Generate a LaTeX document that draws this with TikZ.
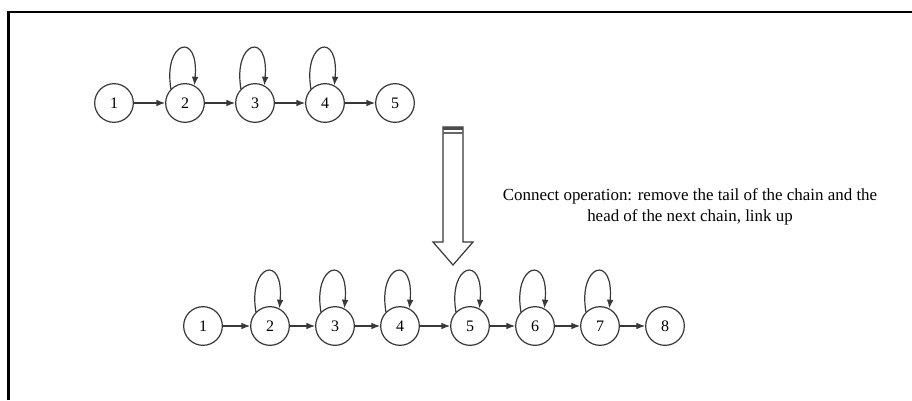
\documentclass[tikz,border=0pt]{standalone}
\usepackage{fontspec}
\setmainfont{Liberation Serif}
\usetikzlibrary{arrows.meta}
\begin{document}
\begin{tikzpicture}[x=0.75pt,y=-0.75pt,
  lc/.style={draw=black!78, line width=0.9pt},
  st/.style={lc, circle, minimum size=29pt, inner sep=0pt, font=\fontsize{12}{14}\selectfont},
  ar/.style={lc, -{Latex[length=6.5pt,width=5pt]}},
  lp/.style={ar}]
\useasboundingbox (0,0) rectangle (912,400);
\fill[white] (0,0) rectangle (912,400);
% frame
\draw[line width=1.9pt, black] (8.5,400) -- (8.5,12) -- (912,12);
% top chain
\foreach \i/\x in {1/114,2/185,3/255,4/325,5/395}
  \node[st] (t\i) at (\x,103) {\i};
\foreach \a/\b in {1/2,2/3,3/4,4/5}
  \draw[ar] (t\a) -- (t\b);
\foreach \i in {2,3,4}
  \draw[lp] (t\i.135) .. controls +(-8,-48) and +(5,-55) .. (t\i.62);
% bottom chain
\foreach \i/\x in {1/203,2/270,3/335,4/400,5/470,6/535,7/600,8/665}
  \node[st] (b\i) at (\x,326) {\i};
\foreach \a/\b in {1/2,2/3,3/4,4/5,5/6,6/7,7/8}
  \draw[ar] (b\a) -- (b\b);
\foreach \i in {2,3,4,5,6,7}
  \draw[lp] (b\i.135) .. controls +(-8,-48) and +(5,-55) .. (b\i.62);
% big hollow arrow
\draw[lc, line join=miter] (443,127) -- (463,127) -- (463,242) -- (473,242) -- (453,265) -- (433,242) -- (443,242) -- cycle;
\fill[black!70] (443,127) rectangle (463,130);
\draw[black!60, line width=0.8pt] (443,133) -- (463,133);
% text
\node[font=\fontsize{12.7}{15.8}\selectfont, align=center] (txt) at (690,207)
  {Connect operation: remove the tail of the chain and the\\head of the next chain, link up};
\end{tikzpicture}
\end{document}
